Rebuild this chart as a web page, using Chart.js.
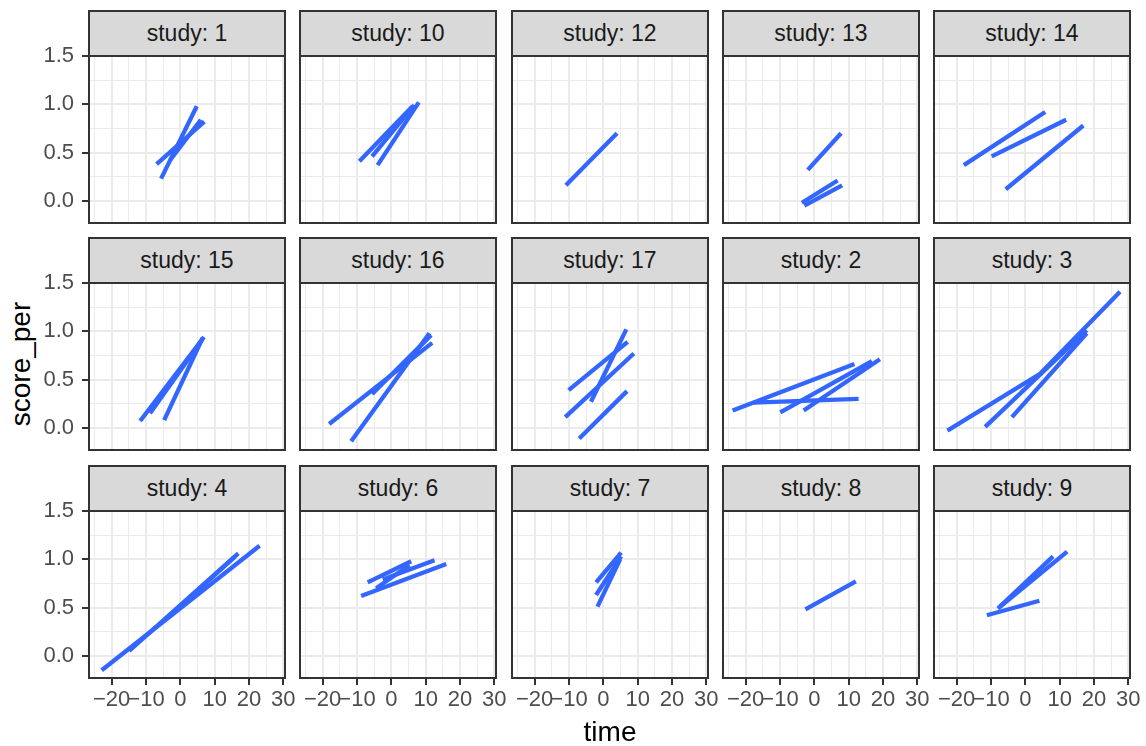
<!DOCTYPE html>
<html>
<head>
<meta charset="utf-8">
<script src="https://cdn.jsdelivr.net/npm/chart.js@4.4.1/dist/chart.umd.min.js"></script>
<style>
  body { margin: 0; background: #fff; width: 1146px; height: 746px; overflow: hidden; position: relative;
         font-family: "Liberation Sans", Arial, Helvetica, sans-serif; }
  canvas { position: absolute; }
  .strip { position: absolute; box-sizing: border-box; background: #D9D9D9; border: 2px solid #333333;
           color: #1A1A1A; font-size: 23px; text-align: center; white-space: nowrap; }
  #ytitle { position: absolute; left: 21px; top: 364px; transform: translate(-50%, -50%) rotate(-90deg);
            font-size: 28px; color: #000; white-space: nowrap; }
</style>
</head>
<body>
<div id="ytitle">score_per</div>
<script>
// facet labels, in the order ggplot lays them out
const studies = ['1', '10', '12', '13', '14', '15', '16', '17', '2', '3', '4', '6', '7', '8', '9'];

// one entry per subject line: [time, score_per] points
const study1  = [[[-5.6, 0.23], [4.8, 0.98]], [[-6.9, 0.38], [7.0, 0.82]], [[-3.0, 0.42], [6.0, 0.84]]];
const study10 = [[[-9.3, 0.41], [6.2, 0.98]], [[-4.0, 0.37], [8.0, 1.02]], [[-5.6, 0.46], [6.7, 0.99]]];
const study12 = [[[-10.9, 0.16], [4.0, 0.70]]];
const study13 = [[[-1.9, 0.32], [7.8, 0.70]], [[-3.6, -0.02], [6.8, 0.21]], [[-2.9, -0.05], [8.1, 0.16]]];
const study14 = [[[-17.9, 0.37], [5.8, 0.92]], [[-9.8, 0.46], [11.9, 0.84]], [[-5.7, 0.12], [16.9, 0.78]]];
const study15 = [[[-11.7, 0.07], [6.9, 0.94]], [[-8.8, 0.15], [6.3, 0.91]], [[-4.7, 0.08], [6.5, 0.93]]];
const study16 = [[[-18.1, 0.04], [11.9, 0.88]], [[-11.7, -0.14], [11.1, 0.98]], [[-5.6, 0.35], [11.6, 0.96]]];
const study17 = [[[-10.1, 0.39], [7.1, 0.89]], [[-3.6, 0.27], [6.7, 1.02]], [[-11.1, 0.11], [8.9, 0.77]], [[-7.0, -0.11], [6.9, 0.38]]];
const study2  = [[[-23.8, 0.18], [11.7, 0.66]], [[-17.7, 0.26], [12.9, 0.30]], [[-9.9, 0.16], [16.8, 0.69]], [[-3.1, 0.18], [19.1, 0.71]]];
const study3  = [[[-22.7, -0.03], [4.3, 0.56], [27.6, 1.41]], [[-11.7, 0.01], [17.9, 1.01]], [[-3.9, 0.11], [17.9, 0.98]]];
const study4  = [[[-22.9, -0.15], [23.1, 1.14]], [[-14.9, 0.05], [16.9, 1.06]], [[-3.9, 0.39], [16.0, 1.03]]];
const study6  = [[[-8.8, 0.62], [16.0, 0.95]], [[-6.9, 0.76], [5.8, 0.98]], [[-2.5, 0.79], [12.6, 0.99]], [[-4.4, 0.70], [5.3, 0.94]]];
const study7  = [[[-2.1, 0.76], [5.2, 1.07]], [[-2.1, 0.63], [5.2, 1.03]], [[-1.7, 0.51], [4.9, 1.00]]];
const study8  = [[[-2.6, 0.48], [12.1, 0.77]]];
const study9  = [[[-11.2, 0.42], [4.1, 0.57]], [[-8.0, 0.49], [12.2, 1.08]], [[-7.4, 0.51], [8.1, 1.03]]];

const studyLines = [study1, study10, study12, study13, study14, study15, study16, study17,
                    study2, study3, study4, study6, study7, study8, study9];

// axes
const xTicks = [-20, -10, 0, 10, 20, 30];
const xMinor = [-25, -15, -5, 5, 15, 25];
const yTicks = [0, 0.5, 1, 1.5];
const yMinor = [0.25, 0.75, 1.25];
const xRange = [-26.6, 30.5];
const yRange = [-0.23, 1.5];

// layout of the facet grid
const COLS = [89, 300, 512, 723, 934];
const ROWS = [11, 238, 466];
const PW = 196, PH = 167, SH = 45, YAX = 89, XAX = 72;

Chart.defaults.font.family = '"Liberation Sans", Arial, Helvetica, sans-serif';

const fmtX = v => (v < 0 ? '\u2212' + Math.abs(v) : String(v));

const panelBorder = {
  id: 'panelBorder',
  afterDraw(chart) {
    const { ctx, chartArea: a } = chart;
    ctx.save();
    ctx.strokeStyle = '#333333';
    ctx.lineWidth = 2;
    ctx.strokeRect(a.left, a.top, a.right - a.left, a.bottom - a.top);
    ctx.restore();
  }
};

studies.forEach((name, i) => {
  const r = Math.floor(i / 5), c = i % 5;
  const leftCol = c === 0, bottomRow = r === 2;
  const padL = leftCol ? 0 : 2;
  const padR = bottomRow ? 14 : 2;
  const padB = bottomRow ? 0 : 2;
  const w = (leftCol ? YAX : padL) + PW + padR;
  const h = SH + PH + (bottomRow ? XAX : padB);

  const cv = document.createElement('canvas');
  cv.width = w; cv.height = h;
  cv.style.width = w + 'px'; cv.style.height = h + 'px';
  cv.style.left = (COLS[c] - (leftCol ? YAX : padL)) + 'px';
  cv.style.top = ROWS[r] + 'px';
  document.body.appendChild(cv);

  const strip = document.createElement('div');
  strip.className = 'strip';
  strip.style.left = (COLS[c] - 1) + 'px';
  strip.style.top = (ROWS[r] - 1) + 'px';
  strip.style.width = (PW + 2) + 'px';
  strip.style.height = (SH + 2) + 'px';
  strip.style.lineHeight = (SH - 2) + 'px';
  strip.textContent = 'study: ' + name;
  document.body.appendChild(strip);

  new Chart(cv, {
    type: 'scatter',
    data: {
      datasets: studyLines[i].map(seg => ({
        data: seg.map(([x, y]) => ({ x, y })),
        showLine: true,
        borderColor: '#3366FF',
        borderWidth: 4.3,
        borderCapStyle: 'butt',
        pointRadius: 0,
        pointHoverRadius: 0,
        fill: false
      }))
    },
    options: {
      responsive: false,
      animation: false,
      events: [],
      layout: { padding: { top: SH, left: padL, right: padR, bottom: padB } },
      plugins: { legend: { display: false }, tooltip: { enabled: false } },
      scales: {
        x: {
          type: 'linear',
          min: xRange[0],
          max: xRange[1],
          afterBuildTicks: ax => { ax.ticks = xMinor.concat(xTicks).sort((a, b) => a - b).map(v => ({ value: v })); },
          afterFit: ax => { ax.height = bottomRow ? XAX : 0; ax.paddingLeft = 0; ax.paddingRight = 0; },
          ticks: {
            display: bottomRow, autoSkip: false, maxRotation: 0, minRotation: 0, padding: 2,
            color: '#4D4D4D', font: { size: 22 },
            callback: v => (xTicks.includes(v) ? fmtX(v) : '')
          },
          grid: {
            color: '#EBEBEB',
            lineWidth: ctx => (ctx.tick && xTicks.includes(ctx.tick.value) ? 2 : 1),
            drawTicks: bottomRow,
            tickLength: 7,
            tickColor: '#333333',
            tickWidth: ctx => (ctx.tick && xTicks.includes(ctx.tick.value) ? 2 : 0)
          },
          border: { display: false },
          title: { display: i === 12, text: 'time', color: '#000', font: { size: 28 }, padding: { top: 0, bottom: 0 } }
        },
        y: {
          type: 'linear',
          min: yRange[0],
          max: yRange[1],
          afterBuildTicks: ax => { ax.ticks = yTicks.concat(yMinor).sort((a, b) => a - b).map(v => ({ value: v })); },
          afterFit: ax => { ax.width = leftCol ? YAX : 0; ax.paddingTop = 0; ax.paddingBottom = 0; },
          ticks: {
            display: leftCol, autoSkip: false, padding: 8,
            color: '#4D4D4D', font: { size: 22 },
            callback: v => (yTicks.includes(v) ? v.toFixed(1) : '')
          },
          grid: {
            color: '#EBEBEB',
            lineWidth: ctx => (ctx.tick && yTicks.includes(ctx.tick.value) ? 2 : 1),
            drawTicks: leftCol,
            tickLength: 7,
            tickColor: '#333333',
            tickWidth: ctx => (ctx.tick && yTicks.includes(ctx.tick.value) ? 2 : 0)
          },
          border: { display: false }
        }
      }
    },
    plugins: [panelBorder]
  });
});
</script>
</body>
</html>
